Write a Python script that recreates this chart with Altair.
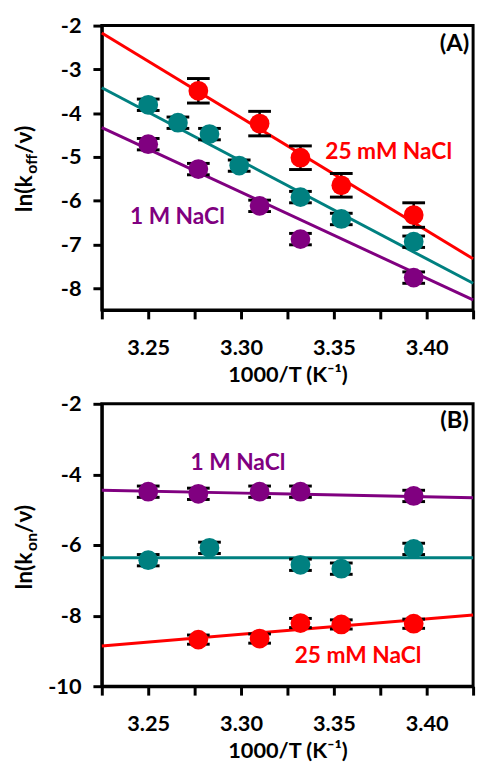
import altair as alt
import pandas as pd

# ---------------- data ----------------
SERIES = ["25 mM NaCl", "intermediate", "1 M NaCl"]
COLORS = ["#ff0000", "#008080", "#800080"]

# Panel A : ln(k_off/v)
a_red_x = [3.277, 3.310, 3.332, 3.354, 3.393]
a_red_y = [-3.49, -4.24, -5.02, -5.65, -6.33]
a_red_e = [0.28, 0.28, 0.27, 0.27, 0.28]
a_teal_x = [3.250, 3.266, 3.283, 3.299, 3.332, 3.354, 3.393]
a_teal_y = [-3.81, -4.22, -4.48, -5.20, -5.92, -6.42, -6.94]
a_teal_e = [0.13, 0.13, 0.13, 0.13, 0.13, 0.13, 0.13]
a_purple_x = [3.250, 3.277, 3.310, 3.332, 3.393]
a_purple_y = [-4.71, -5.28, -6.12, -6.88, -7.76]
a_purple_e = [0.13, 0.13, 0.13, 0.13, 0.13]

fit_x = [3.225, 3.425]
a_red_fit = [-2.17, -7.33]
a_teal_fit = [-3.42, -7.89]
a_purple_fit = [-4.33, -8.27]

# Panel B : ln(k_on/v)
b_red_x = [3.277, 3.310, 3.332, 3.354, 3.393]
b_red_y = [-8.68, -8.65, -8.21, -8.25, -8.23]
b_red_e = [0.13, 0.13, 0.13, 0.13, 0.13]
b_teal_x = [3.250, 3.283, 3.332, 3.354, 3.393]
b_teal_y = [-6.43, -6.08, -6.56, -6.67, -6.11]
b_teal_e = [0.16, 0.16, 0.16, 0.16, 0.16]
b_purple_x = [3.250, 3.277, 3.310, 3.332, 3.393]
b_purple_y = [-4.49, -4.55, -4.49, -4.49, -4.61]
b_purple_e = [0.16, 0.16, 0.16, 0.16, 0.16]

b_red_fit = [-8.86, -7.98]
b_teal_fit = [-6.36, -6.36]
b_purple_fit = [-4.45, -4.66]

# annotations
a_label_text = ["25 mM NaCl", "1 M NaCl"]
a_label_series = ["25 mM NaCl", "1 M NaCl"]
a_label_x = [3.3795, 3.2657]
a_label_y = [-4.89, -6.38]
b_label_text = ["1 M NaCl", "25 mM NaCl"]
b_label_series = ["1 M NaCl", "25 mM NaCl"]
b_label_x = [3.2983, 3.363]
b_label_y = [-3.68, -9.14]

x_domain = [3.225, 3.425]
x_ticks = [3.225, 3.25, 3.275, 3.30, 3.325, 3.35, 3.375, 3.40, 3.425]
a_y_domain = [-8.5, -2]
a_y_ticks = [-8, -7, -6, -5, -4, -3, -2]
b_y_domain = [-10, -2]
b_y_ticks = [-10, -8, -6, -4, -2]

FONT = "Lato"


def points_df(groups):
    rows = []
    for s, xs, ys, es in groups:
        for x, y, e in zip(xs, ys, es):
            rows.append({"series": s, "x": x, "y": y, "lo": y - e, "hi": y + e})
    return pd.DataFrame(rows)


def fits_df(groups):
    rows = []
    for s, ys in groups:
        for x, y in zip(fit_x, ys):
            rows.append({"series": s, "x": x, "y": y})
    return pd.DataFrame(rows)


def panel(pts, fits, labels, letter, letter_y, ydom, yticks, height, sub, sub_w, title_y):
    xs = alt.Scale(domain=x_domain, nice=False, zero=False)
    ys = alt.Scale(domain=ydom, nice=False, zero=False)
    color = alt.Color("series:N", scale=alt.Scale(domain=SERIES, range=COLORS), legend=None)
    x_axis = alt.Axis(values=x_ticks, title="1000/T (K\u207b\u00b9)",
                      labelExpr="round(datum.value*1000) % 50 == 0 ? format(datum.value, '.2f') : ''",
                      labelPadding=19, titlePadding=6, labelFlush=False)
    y_axis = alt.Axis(values=yticks, title=None, labelExpr="'' + datum.value",
                      labelPadding=12)

    X = alt.X("x:Q", scale=xs, axis=x_axis)

    def Y(f):
        return alt.Y(f, type="quantitative", scale=ys, axis=y_axis)

    lines = alt.Chart(fits).mark_line(strokeWidth=3).encode(x=X, y=Y("y"), color=color)
    bars = alt.Chart(pts).mark_rule(color="black", strokeWidth=2.5).encode(
        x=X, y=Y("lo"), y2="hi:Q")
    cap_lo = alt.Chart(pts).mark_tick(color="black", orient="horizontal", size=23,
                                      thickness=3, opacity=1).encode(x=X, y=Y("lo"))
    cap_hi = alt.Chart(pts).mark_tick(color="black", orient="horizontal", size=23,
                                      thickness=3, opacity=1).encode(x=X, y=Y("hi"))
    dots = alt.Chart(pts).mark_circle(size=400, opacity=1).encode(x=X, y=Y("y"), color=color)
    ann = alt.Chart(labels).mark_text(font=FONT, fontWeight="bold", fontSize=23).encode(
        x=X, y=Y("y"), text="text:N", color=color)
    let = alt.Chart(pd.DataFrame({"x": [3.415], "y": [letter_y], "t": [letter]})).mark_text(
        font=FONT, fontWeight="bold", fontSize=24, color="black").encode(
        x=X, y=Y("y"), text="t:N")

    tdf = pd.DataFrame({"a": [0]})
    common = dict(font=FONT, fontWeight="bold", color="black", angle=270,
                  align="left", baseline="alphabetic")
    t1 = alt.Chart(tdf).mark_text(fontSize=23, text="ln(k", **common).encode(
        x=alt.value(-71), y=alt.value(title_y))
    t2 = alt.Chart(tdf).mark_text(fontSize=16, text=sub, dx=39, dy=5, **common).encode(
        x=alt.value(-71), y=alt.value(title_y))
    t3 = alt.Chart(tdf).mark_text(fontSize=23, text="/\u03bd)", dx=39 + sub_w, **common).encode(
        x=alt.value(-71), y=alt.value(title_y))

    return alt.layer(lines, bars, cap_lo, cap_hi, dots, ann, let, t1, t2, t3).properties(
        width=376, height=height)


pa = points_df([
    ("25 mM NaCl", a_red_x, a_red_y, a_red_e),
    ("intermediate", a_teal_x, a_teal_y, a_teal_e),
    ("1 M NaCl", a_purple_x, a_purple_y, a_purple_e),
])
fa = fits_df([("25 mM NaCl", a_red_fit), ("intermediate", a_teal_fit), ("1 M NaCl", a_purple_fit)])
la = pd.DataFrame({"text": a_label_text, "series": a_label_series, "x": a_label_x, "y": a_label_y})

pb = points_df([
    ("25 mM NaCl", b_red_x, b_red_y, b_red_e),
    ("intermediate", b_teal_x, b_teal_y, b_teal_e),
    ("1 M NaCl", b_purple_x, b_purple_y, b_purple_e),
])
fb = fits_df([("25 mM NaCl", b_red_fit), ("intermediate", b_teal_fit), ("1 M NaCl", b_purple_fit)])
lb = pd.DataFrame({"text": b_label_text, "series": b_label_series, "x": b_label_x, "y": b_label_y})

A = panel(pa, fa, la, "(A)", -2.43, a_y_domain, a_y_ticks, 288, "off", 20, 189)
B = panel(pb, fb, lb, "(B)", -2.48, b_y_domain, b_y_ticks, 286, "on", 18, 188)

chart = alt.vconcat(A, B, spacing=4, bounds="full").properties(
    padding={"left": 4, "top": 0, "right": 0, "bottom": 0}
).configure_axis(
    domainColor="black", domainWidth=3, tickColor="black", tickWidth=3, tickSize=9,
    labelFont=FONT, labelFontWeight="bold", labelFontSize=22, labelColor="black",
    titleFont=FONT, titleFontWeight="bold", titleFontSize=22, titleColor="black",
    grid=False,
).configure_view(stroke="black", strokeWidth=3)

chart.save("out.html", embed_options={"renderer": "svg", "actions": False})
